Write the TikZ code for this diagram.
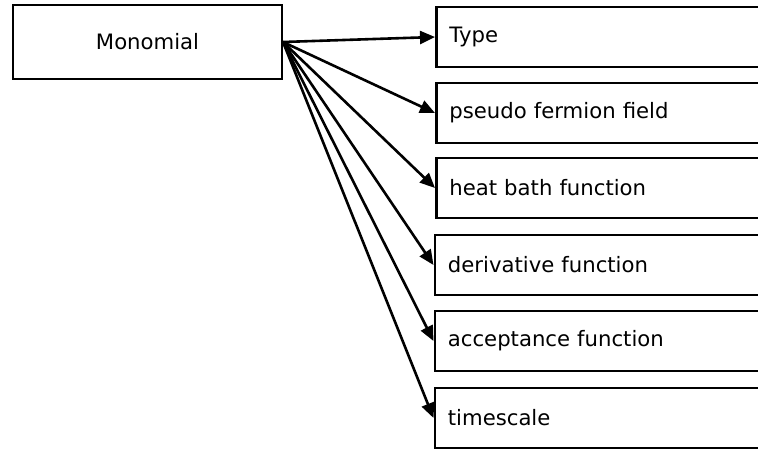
\documentclass[tikz,border=0pt]{standalone}
\usepackage{fontspec}
\setmainfont{DejaVu Sans}
\usetikzlibrary{arrows.meta}
\begin{document}
\begin{tikzpicture}[x=1pt,y=-1pt,
  box/.style={draw=black,line width=2.8pt,fill=white,inner sep=0pt},
  item/.style={box,anchor=west,minimum width=380pt,minimum height=60pt,text width=354pt,align=left},
  conn/.style={line width=2.6pt,-{Triangle[length=15pt,width=13pt]}},
  every node/.style={font=\fontsize{21.2}{25}\selectfont}]
\useasboundingbox (0,0) rectangle (758,453);
\clip (0,0) rectangle (758,453);
\node[box,minimum width=269pt,minimum height=74pt] (mono) at (147.5,42) {Monomial};
\node[item] (type) at (435,37) {Type};
\node[item] (pseudo) at (435,113) {pseudo fermion field};
\node[item] (heat) at (435,188) {heat bath function};
\node[item] (deriv) at (433.5,265) {derivative function};
\node[item] (accept) at (433.5,341) {acceptance function};
\node[item] (time) at (433.5,418) {timescale};
\coordinate (src) at (283,42);
\foreach \t in {type,pseudo,heat,deriv,accept,time}
  \draw[conn] (src) -- (\t.west);
\end{tikzpicture}
\end{document}
